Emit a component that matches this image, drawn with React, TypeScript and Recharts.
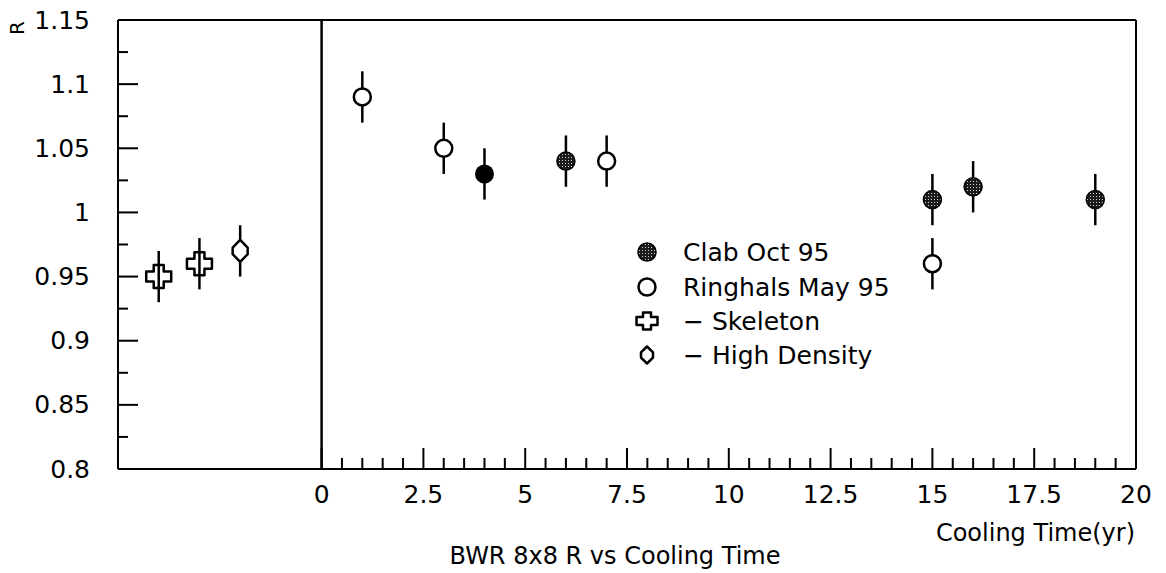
import React from 'react';
import { ScatterChart, Scatter, XAxis, YAxis, ErrorBar, ReferenceLine, Legend, Label } from 'recharts';

// ---- data ----
const clabX = [4, 6, 15, 16, 19];
const clabY = [1.03, 1.04, 1.01, 1.02, 1.01];
const clabErr = [0.02, 0.02, 0.02, 0.02, 0.02];
const clabSolid = [true, false, false, false, false];

const ringhalsX = [1, 3, 7, 15];
const ringhalsY = [1.09, 1.05, 1.04, 0.96];
const ringhalsErr = [0.02, 0.02, 0.02, 0.02];

const skeletonX = [-4, -3];
const skeletonY = [0.95, 0.96];
const skeletonErr = [0.02, 0.02];

const densityX = [-2];
const densityY = [0.97];
const densityErr = [0.02];

const seriesNames = ['Clab Oct 95', 'Ringhals May 95', '\u2212 Skeleton', '\u2212 High Density'];

const xMajorTicks = [0, 2.5, 5, 7.5, 10, 12.5, 15, 17.5, 20];
const xMinorTicks = [0.5, 1, 1.5, 2, 3, 3.5, 4, 4.5, 5.5, 6, 6.5, 7, 8, 8.5, 9, 9.5, 10.5, 11, 11.5, 12, 13, 13.5, 14, 14.5, 15.5, 16, 16.5, 17, 18, 18.5, 19, 19.5];
const yMajorTicks = [0.8, 0.85, 0.9, 0.95, 1, 1.05, 1.1, 1.15];
const yMinorTicks = [0.825, 0.875, 0.925, 0.975, 1.025, 1.075, 1.125];

const xAxisTitle = 'Cooling Time(yr)';
const yAxisTitle = 'R';
const chartTitle = 'BWR 8x8 R vs Cooling Time';

// ---- build ----
const clabData = clabX.map((x, i) => ({ x, y: clabY[i], err: clabErr[i], solid: clabSolid[i] }));
const ringhalsData = ringhalsX.map((x, i) => ({ x, y: ringhalsY[i], err: ringhalsErr[i] }));
const skeletonData = skeletonX.map((x, i) => ({ x, y: skeletonY[i], err: skeletonErr[i] }));
const densityData = densityX.map((x, i) => ({ x, y: densityY[i], err: densityErr[i] }));

const xTicks = [...xMajorTicks, ...xMinorTicks].sort((a, b) => a - b);
const yTicks = [...yMajorTicks, ...yMinorTicks].sort((a, b) => a - b);

const FONT = '"DejaVu Sans", "Liberation Sans", sans-serif';
const FS = 25;

const HatchDefs = () => (
  <defs>
    <pattern id="dotHatch" width="3" height="3" patternUnits="userSpaceOnUse">
      <rect width="3" height="3" fill="#1c1c1c" />
      <rect x="1" y="1" width="1" height="1" fill="#cfcfcf" />
    </pattern>
  </defs>
);

const clabMarker = (cx: number, cy: number, solid: boolean, r = 9) =>
  solid ? (
    <circle cx={cx} cy={cy} r={r + 0.5} fill="#000" />
  ) : (
    <g>
      <HatchDefs />
      <circle cx={cx} cy={cy} r={r} fill="url(#dotHatch)" stroke="#000" strokeWidth={1.5} />
    </g>
  );

const ringMarker = (cx: number, cy: number, r = 8.5) => (
  <circle cx={cx} cy={cy} r={r} fill="#fff" stroke="#000" strokeWidth={2.5} />
);

const crossMarker = (cx: number, cy: number, ah = 12.5, av = 11.5, b = 5) => {
  const d = `M${cx - b},${cy - av} L${cx + b},${cy - av} L${cx + b},${cy - b} L${cx + ah},${cy - b} L${cx + ah},${cy + b} L${cx + b},${cy + b} L${cx + b},${cy + av} L${cx - b},${cy + av} L${cx - b},${cy + b} L${cx - ah},${cy + b} L${cx - ah},${cy - b} L${cx - b},${cy - b} Z`;
  return <path d={d} fill="none" stroke="#000" strokeWidth={2.5} strokeLinejoin="round" />;
};

const diamondMarker = (cx: number, cy: number, w = 7.5, h = 11) => {
  const d = `M${cx},${cy - h} L${cx + w},${cy - h * 0.3} L${cx + w},${cy + h * 0.3} L${cx},${cy + h} L${cx - w},${cy + h * 0.3} L${cx - w},${cy - h * 0.3} Z`;
  return <path d={d} fill="#fff" stroke="#000" strokeWidth={2.5} strokeLinejoin="round" />;
};

const XTick = (p: any) => {
  const { x, y, payload } = p;
  const v = payload.value;
  const major = xMajorTicks.includes(v);
  return (
    <g>
      <line x1={x} x2={x} y1={y} y2={y - (major ? 21 : 11)} stroke="#000" strokeWidth={2} />
      {major && (
        <text x={x} y={y + 25} textAnchor="middle" dominantBaseline="central" fontFamily={FONT} fontSize={FS} fill="#000">
          {String(v)}
        </text>
      )}
    </g>
  );
};

const YTick = (p: any) => {
  const { x, y, payload } = p;
  const v = payload.value;
  const major = yMajorTicks.includes(v);
  return (
    <g>
      <line x1={x} x2={x + (major ? 20 : 10)} y1={y} y2={y} stroke="#000" strokeWidth={2} />
      {major && (
        <text x={x - 28} y={y} textAnchor="end" dominantBaseline="central" fontFamily={FONT} fontSize={FS} fill="#000">
          {String(v)}
        </text>
      )}
    </g>
  );
};

const renderLegend = () => {
  const rows = [18, 53, 87, 121];
  const mx = 27;
  const tx = 63;
  return (
    <svg width={320} height={150} style={{ display: 'block', overflow: 'visible' }}>
      <HatchDefs />
      {clabMarker(mx, rows[0], false, 9)}
      {ringMarker(mx, rows[1], 8.5)}
      {crossMarker(mx, rows[2], 10.5, 8.5, 4)}
      {diamondMarker(mx, rows[3], 6, 8.5)}
      {seriesNames.map((n, i) => (
        <text key={i} x={tx} y={rows[i]} dominantBaseline="central" fontFamily={FONT} fontSize={FS} fill="#000">
          {n}
        </text>
      ))}
    </svg>
  );
};

export default function App() {
  return (
    <div style={{ position: 'absolute', left: 0, top: 0, width: 1166, height: 573 }}>
      <ScatterChart width={1166} height={573} margin={{ top: 20, right: 30, bottom: 0, left: 0 }}>
        <XAxis
          type="number"
          dataKey="x"
          domain={[-5, 20]}
          ticks={xTicks}
          interval={0}
          allowDataOverflow
          height={104}
          tickSize={0}
          tickMargin={0}
          tickLine={false}
          axisLine={{ stroke: '#000', strokeWidth: 2 }}
          tick={<XTick />}
        >
          <Label
            content={(lp: any) => {
              const vb = lp.viewBox || { x: 118, y: 469, width: 1018, height: 104 };
              return (
                <g>
                  <text x={vb.x + vb.width - 1} y={vb.y + 64} textAnchor="end" dominantBaseline="central" fontFamily={FONT} fontSize={24} fill="#000">
                    {xAxisTitle}
                  </text>
                  <text x={vb.x + 497} y={vb.y + 87} textAnchor="middle" dominantBaseline="central" fontFamily={FONT} fontSize={24} fill="#000">
                    {chartTitle}
                  </text>
                </g>
              );
            }}
          />
        </XAxis>
        <YAxis
          type="number"
          dataKey="y"
          domain={[0.8, 1.15]}
          ticks={yTicks}
          interval={0}
          allowDataOverflow
          width={118}
          tickSize={0}
          tickMargin={0}
          tickLine={false}
          axisLine={{ stroke: '#000', strokeWidth: 2 }}
          tick={<YTick />}
        >
          <Label
            content={(lp: any) => {
              const vb = lp.viewBox || { x: 0, y: 20 };
              const x = vb.x + 17;
              const y = vb.y + 8;
              return (
                <text x={x} y={y} transform={`rotate(-90 ${x} ${y})`} textAnchor="middle" dominantBaseline="central" fontFamily={FONT} fontSize={20} fill="#000">
                  {yAxisTitle}
                </text>
              );
            }}
          />
        </YAxis>
        <ReferenceLine y={1.15} stroke="#000" strokeWidth={2} />
        <ReferenceLine x={20} stroke="#000" strokeWidth={2} />
        <ReferenceLine x={0} stroke="#000" strokeWidth={2.5} />
        <Legend
          layout="vertical"
          align="center"
          verticalAlign="middle"
          content={renderLegend}
          wrapperStyle={{ left: 620, top: 234, width: 320, height: 150 }}
        />
        <Scatter
          name={seriesNames[0]}
          data={clabData}
          isAnimationActive={false}
          shape={(p: any) => clabMarker(p.cx, p.cy, !!(p.payload && p.payload.solid))}
        >
          <ErrorBar dataKey="err" direction="y" width={0} stroke="#000" strokeWidth={2.5} isAnimationActive={false} />
        </Scatter>
        <Scatter
          name={seriesNames[1]}
          data={ringhalsData}
          isAnimationActive={false}
          shape={(p: any) => ringMarker(p.cx, p.cy)}
        >
          <ErrorBar dataKey="err" direction="y" width={0} stroke="#000" strokeWidth={2.5} isAnimationActive={false} />
        </Scatter>
        <Scatter
          name={seriesNames[2]}
          data={skeletonData}
          isAnimationActive={false}
          shape={(p: any) => crossMarker(p.cx, p.cy)}
        >
          <ErrorBar dataKey="err" direction="y" width={0} stroke="#000" strokeWidth={2.5} isAnimationActive={false} />
        </Scatter>
        <Scatter
          name={seriesNames[3]}
          data={densityData}
          isAnimationActive={false}
          shape={(p: any) => diamondMarker(p.cx, p.cy)}
        >
          <ErrorBar dataKey="err" direction="y" width={0} stroke="#000" strokeWidth={2.5} isAnimationActive={false} />
        </Scatter>
      </ScatterChart>
    </div>
  );
}
